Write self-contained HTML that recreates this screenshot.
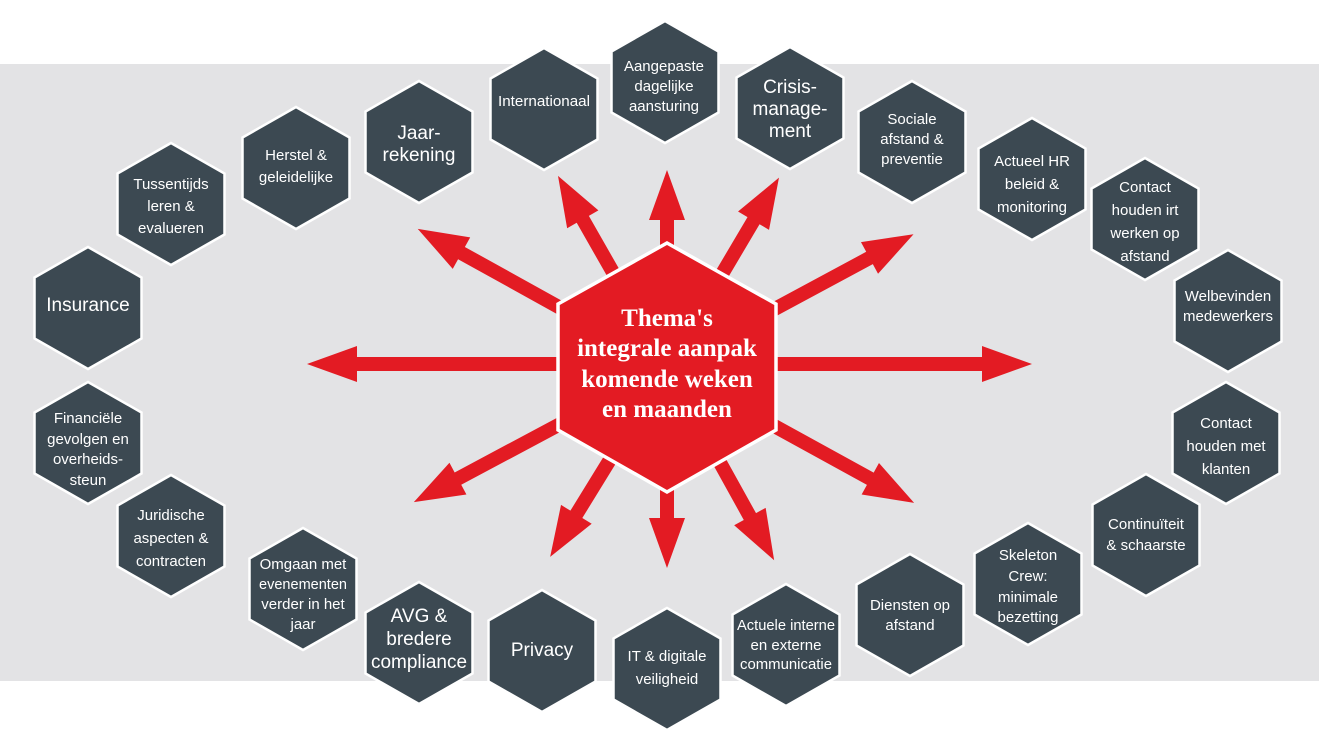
<!DOCTYPE html>
<html><head><meta charset="utf-8"><style>
html,body{margin:0;padding:0;background:#fff;}
svg{display:block;}
.t{font-family:"Liberation Sans Narrow","Liberation Sans",sans-serif;fill:#fff;text-anchor:middle;font-size:15px;}
.b{font-size:19px;}
.c{font-family:"Liberation Serif",serif;font-weight:bold;fill:#fff;text-anchor:middle;font-size:25px;}
</style></head><body>
<svg width="1319" height="755" viewBox="0 0 1319 755" xmlns="http://www.w3.org/2000/svg">
<defs>
<polygon id="h" points="0,-61 53.5,-30.5 53.5,30.5 0,61 -53.5,30.5 -53.5,-30.5" fill="#3c4952" stroke="#fff" stroke-width="2.5"/>
</defs>
<rect x="0" y="64" width="1319" height="617" fill="#e3e3e5"/>
<g fill="#e31b23">
<polygon transform="translate(667,364) rotate(180)" points="0,-7 310,-7 310,-18 360,0 310,18 310,7 0,7"/>
<polygon transform="translate(667,364) rotate(0)" points="0,-7 315,-7 315,-18 365,0 315,18 315,7 0,7"/>
<polygon transform="translate(667,367) rotate(-90)" points="0,-7 147,-7 147,-18 197,0 147,18 147,7 0,7"/>
<polygon transform="translate(667,367) rotate(90)" points="0,-7 151,-7 151,-18 201,0 151,18 151,7 0,7"/>
<polygon transform="translate(667,367) rotate(209)" points="0,-7 235,-7 235,-18 285,0 235,18 235,7 0,7"/>
<polygon transform="translate(667,367) rotate(-119.7)" points="0,-7 170,-7 170,-18 220,0 170,18 170,7 0,7"/>
<polygon transform="translate(667,367) rotate(-59.4)" points="0,-7 170,-7 170,-18 220,0 170,18 170,7 0,7"/>
<polygon transform="translate(667,367) rotate(-28.3)" points="0,-7 230,-7 230,-18 280,0 230,18 230,7 0,7"/>
<polygon transform="translate(667,367) rotate(151.9)" points="0,-7 237,-7 237,-18 287,0 237,18 237,7 0,7"/>
<polygon transform="translate(667,367) rotate(121.6)" points="0,-7 173,-7 173,-18 223,0 173,18 173,7 0,7"/>
<polygon transform="translate(667,367) rotate(61)" points="0,-7 171,-7 171,-18 221,0 171,18 171,7 0,7"/>
<polygon transform="translate(667,367) rotate(28.8)" points="0,-7 232,-7 232,-18 282,0 232,18 232,7 0,7"/>
</g>
<polygon points="667,243 776,304 776,430 667,492 558,430 558,304" fill="#e31b23" stroke="#fff" stroke-width="3.5"/>
<text class="c"><tspan x="667" y="326">Thema's</tspan><tspan x="667" y="356">integrale aanpak</tspan><tspan x="667" y="387">komende weken</tspan><tspan x="667" y="417">en maanden</tspan></text>

<use href="#h" x="88" y="308"/>
<use href="#h" x="171" y="204"/>
<use href="#h" x="296" y="168"/>
<use href="#h" x="419" y="142"/>
<use href="#h" x="544" y="109"/>
<use href="#h" x="665" y="82"/>
<use href="#h" x="790" y="108"/>
<use href="#h" x="912" y="142"/>
<use href="#h" x="1032" y="179"/>
<use href="#h" x="1145" y="219"/>
<use href="#h" x="1228" y="311"/>
<use href="#h" x="1226" y="443"/>
<use href="#h" x="1146" y="535"/>
<use href="#h" x="1028" y="584"/>
<use href="#h" x="910" y="615"/>
<use href="#h" x="786" y="645"/>
<use href="#h" x="667" y="669"/>
<use href="#h" x="542" y="651"/>
<use href="#h" x="419" y="643"/>
<use href="#h" x="303" y="589"/>
<use href="#h" x="171" y="536"/>
<use href="#h" x="88" y="443"/>

<text class="t b" x="88" y="311">Insurance</text>
<text class="t"><tspan x="171" y="189">Tussentijds</tspan><tspan x="171" y="211">leren &amp;</tspan><tspan x="171" y="233">evalueren</tspan></text>
<text class="t"><tspan x="296" y="160">Herstel &amp;</tspan><tspan x="296" y="182">geleidelijke</tspan></text>
<text class="t b"><tspan x="419" y="139">Jaar-</tspan><tspan x="419" y="161">rekening</tspan></text>
<text class="t" x="544" y="106" textLength="92" lengthAdjust="spacingAndGlyphs">Internationaal</text>
<text class="t"><tspan x="664" y="71">Aangepaste</tspan><tspan x="664" y="91">dagelijke</tspan><tspan x="664" y="111">aansturing</tspan></text>
<text class="t b"><tspan x="790" y="93">Crisis-</tspan><tspan x="790" y="115">manage-</tspan><tspan x="790" y="137">ment</tspan></text>
<text class="t"><tspan x="912" y="124">Sociale</tspan><tspan x="912" y="144">afstand &amp;</tspan><tspan x="912" y="164">preventie</tspan></text>
<text class="t"><tspan x="1032" y="166">Actueel HR</tspan><tspan x="1032" y="189">beleid &amp;</tspan><tspan x="1032" y="212">monitoring</tspan></text>
<text class="t"><tspan x="1145" y="192">Contact</tspan><tspan x="1145" y="215">houden irt</tspan><tspan x="1145" y="238">werken op</tspan><tspan x="1145" y="261">afstand</tspan></text>
<text class="t"><tspan x="1228" y="301">Welbevinden</tspan><tspan x="1228" y="321">medewerkers</tspan></text>
<text class="t"><tspan x="1226" y="428">Contact</tspan><tspan x="1226" y="451">houden met</tspan><tspan x="1226" y="474">klanten</tspan></text>
<text class="t"><tspan x="1146" y="529">Continuïteit</tspan><tspan x="1146" y="550">&amp; schaarste</tspan></text>
<text class="t"><tspan x="1028" y="560">Skeleton</tspan><tspan x="1028" y="581">Crew:</tspan><tspan x="1028" y="602">minimale</tspan><tspan x="1028" y="622">bezetting</tspan></text>
<text class="t"><tspan x="910" y="610">Diensten op</tspan><tspan x="910" y="630">afstand</tspan></text>
<text class="t"><tspan x="786" y="630" textLength="98" lengthAdjust="spacingAndGlyphs">Actuele interne</tspan><tspan x="786" y="650">en externe</tspan><tspan x="786" y="669" textLength="92" lengthAdjust="spacingAndGlyphs">communicatie</tspan></text>
<text class="t"><tspan x="667" y="661">IT &amp; digitale</tspan><tspan x="667" y="684">veiligheid</tspan></text>
<text class="t b" x="542" y="656">Privacy</text>
<text class="t b"><tspan x="419" y="622">AVG &amp;</tspan><tspan x="419" y="645">bredere</tspan><tspan x="419" y="668" textLength="96" lengthAdjust="spacingAndGlyphs">compliance</tspan></text>
<text class="t"><tspan x="303" y="569">Omgaan met</tspan><tspan x="303" y="589" textLength="88" lengthAdjust="spacingAndGlyphs">evenementen</tspan><tspan x="303" y="609">verder in het</tspan><tspan x="303" y="629">jaar</tspan></text>
<text class="t"><tspan x="171" y="520">Juridische</tspan><tspan x="171" y="543">aspecten &amp;</tspan><tspan x="171" y="566">contracten</tspan></text>
<text class="t"><tspan x="88" y="423">Financiële</tspan><tspan x="88" y="444">gevolgen en</tspan><tspan x="88" y="464">overheids-</tspan><tspan x="88" y="485">steun</tspan></text>
</svg>
</body></html>
